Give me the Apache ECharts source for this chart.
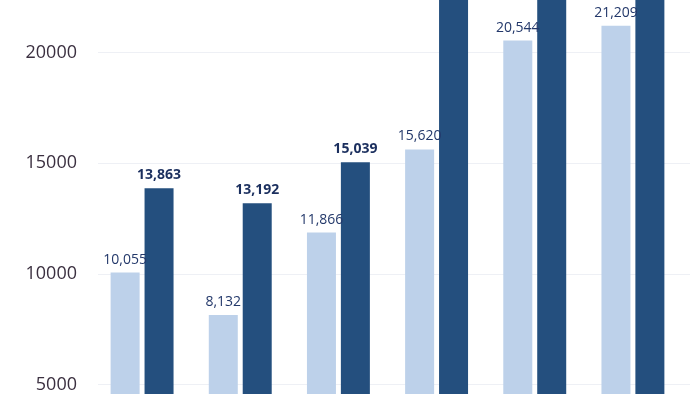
<!DOCTYPE html>
<html><head><meta charset="utf-8">
<script src="https://cdn.jsdelivr.net/npm/echarts@6/dist/echarts.min.js"></script>
<style>html,body{margin:0;padding:0;background:#fff;overflow:hidden;width:700px;height:394px}#c{width:700px;height:553px;position:absolute;left:0;top:-58px}</style>
</head><body><div id="c"></div>
<script>
const categories = ['A','B','C','D','E','F'];
const lightValues = [10055, 8132, 11866, 15620, 20544, 21209];
const darkValues = [13863, 13192, 15039, 24800, 28400, 30100];
const yTicks = {min: 0, max: 25000, interval: 5000};

const fmt = v => v.toLocaleString('en-US');
const chart = echarts.init(document.getElementById('c'));
chart.setOption({
  animation: false,
  backgroundColor: '#ffffff',
  grid: [
    {left: 98, right: 10, top: 0, bottom: 0, containLabel: false, outerBoundsMode: 'none'},
    {left: 93, right: 18, top: 0, bottom: 0, containLabel: false, outerBoundsMode: 'none'}
  ],
  xAxis: [
    {type: 'value', gridIndex: 0, show: false, min: 0, max: 1},
    {type: 'category', gridIndex: 1, data: categories,
      axisLine: {show: false}, axisTick: {show: false}, axisLabel: {show: false}}
  ],
  yAxis: [
    {type: 'value', gridIndex: 0, min: yTicks.min, max: yTicks.max, interval: yTicks.interval,
      axisLine: {show: false}, axisTick: {show: false}, axisLabel: {show: false},
      splitLine: {lineStyle: {color: '#eef0f5', width: 1}}},
    {type: 'value', gridIndex: 1, min: yTicks.min, max: yTicks.max, interval: yTicks.interval,
      axisLine: {show: false}, axisTick: {show: false}, splitLine: {show: false},
      axisLabel: {color: '#3b3040', fontSize: 18, fontFamily: 'Open Sans', margin: 16, formatter: v => String(v)}}
  ],
  series: [
    {
      type: 'bar', xAxisIndex: 1, yAxisIndex: 1, data: lightValues, barWidth: 29, barGap: '17%',
      itemStyle: {color: '#bdd1ea'},
      label: {show: true, position: 'top', distance: 6, formatter: p => fmt(p.value),
        color: '#23386a', fontSize: 14, fontFamily: 'Open Sans'}
    },
    {
      type: 'bar', xAxisIndex: 1, yAxisIndex: 1, data: darkValues, barWidth: 29, barGap: '17%',
      itemStyle: {color: '#244f7e'},
      label: {show: true, position: 'top', distance: 6, formatter: p => fmt(p.value),
        color: '#1b2f5e', fontSize: 14, fontWeight: 'bold', fontFamily: 'Open Sans'}
    }
  ]
});
</script></body></html>
